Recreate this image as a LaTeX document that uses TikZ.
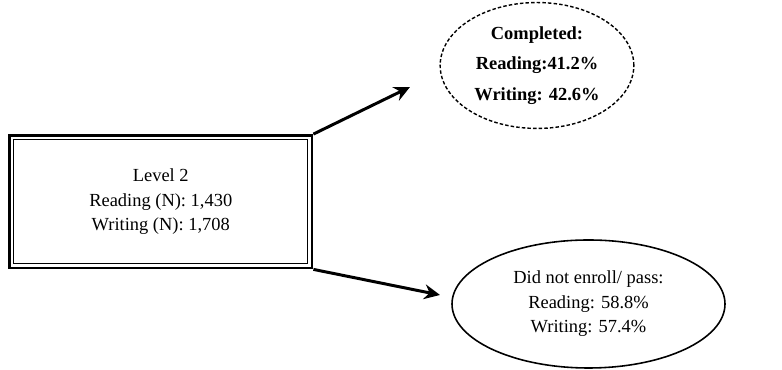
\documentclass[tikz,border=0pt]{standalone}
\usepackage{fontspec}
\setmainfont{Liberation Serif}
\usetikzlibrary{shapes.geometric,arrows.meta}

\begin{document}
\begin{tikzpicture}[
    every node/.style={font=\fontsize{10.5}{13.9}\selectfont, align=center},
    flow/.style={line width=1.7pt, -{Stealth[length=9pt,width=8.5pt,inset=3pt]}}
]
    \useasboundingbox (0,0) rectangle (15.64,7.4);

    % level box with double frame
    \node[draw, line width=1.6pt, minimum width=6.05cm, minimum height=2.65cm] (level) at (3.215,3.365)
        {Level 2\\Reading (N): 1,430\\Writing (N): 1,708};
    \draw[line width=0.6pt] ([shift={(3.3pt,-3.3pt)}]level.north west) rectangle ([shift={(-3.3pt,3.3pt)}]level.south east);

    % outcomes
    \node[ellipse, draw, line width=0.8pt, dash pattern=on 2pt off 1.2pt, minimum width=3.84cm, minimum height=2.5cm, font=\fontsize{10.5}{17.2}\selectfont\bfseries] (done) at (10.74,6.09)
        {Completed:\\Reading:41.2\%\\Writing: 42.6\%};
    \node[ellipse, draw, line width=0.9pt, minimum width=5.46cm, minimum height=2.56cm] (fail) at (11.77,1.32)
        {Did not enroll/ pass:\\Reading: 58.8\%\\Writing: 57.4\%};

    \coordinate (tipA) at (8.2,5.66);
    \coordinate (tipB) at (8.8,1.5);
    \draw[flow] (level.north east) -- (tipA);
    \draw[flow] (level.south east) -- (tipB);
\end{tikzpicture}
\end{document}
